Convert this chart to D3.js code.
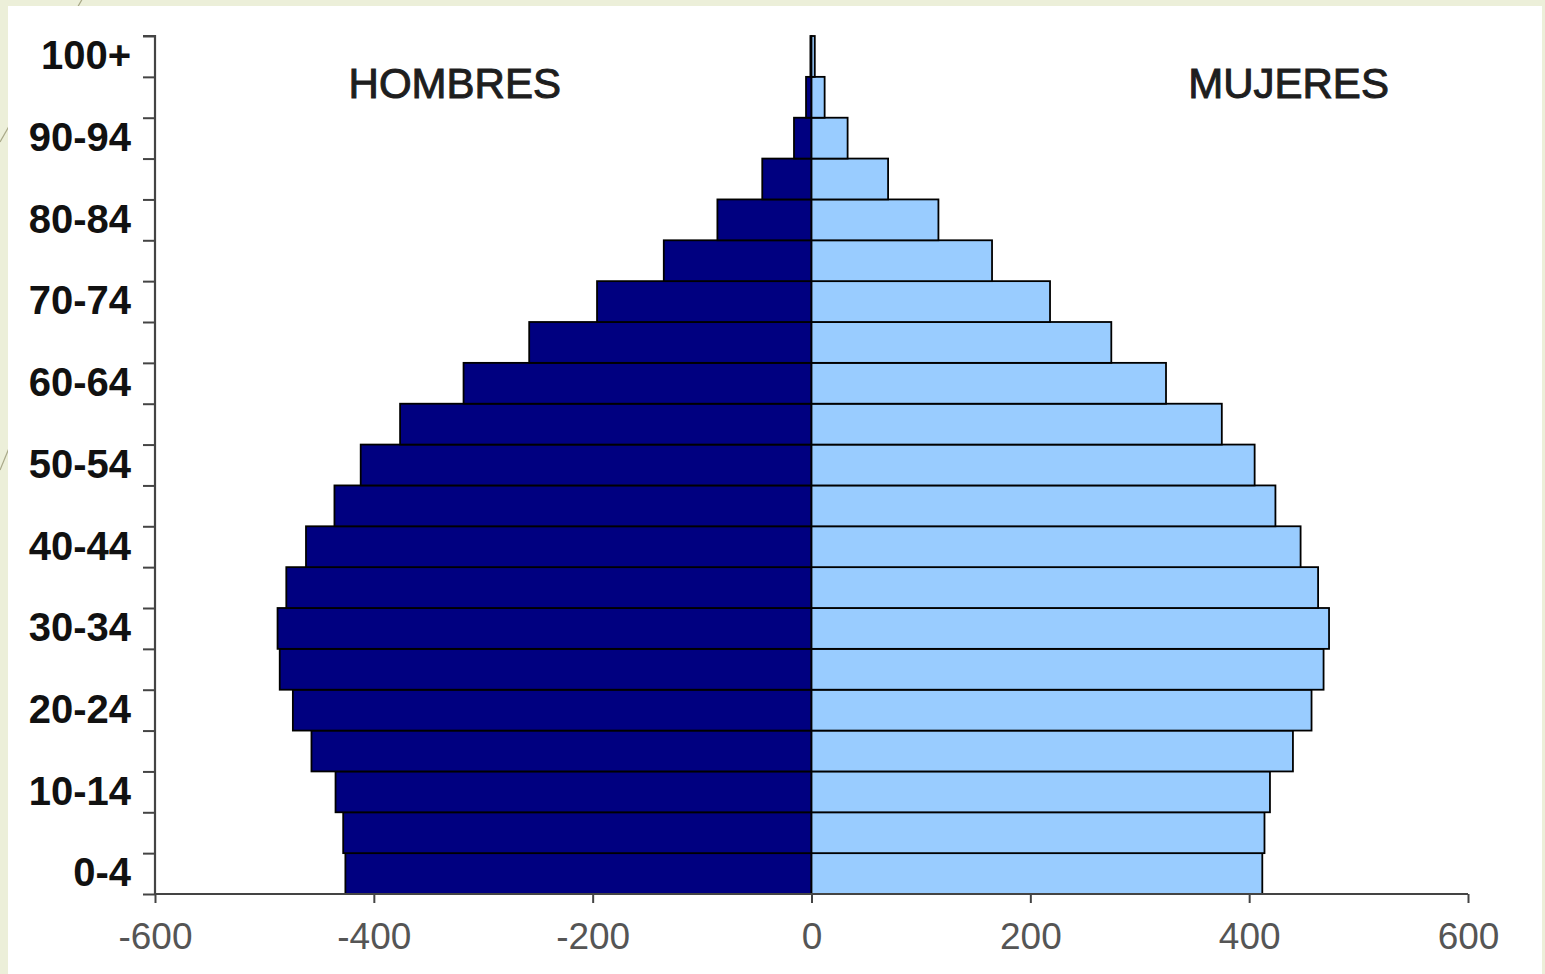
<!DOCTYPE html>
<html>
<head>
<meta charset="utf-8">
<script src="https://cdn.jsdelivr.net/npm/d3@7"></script>
<style>
html,body{margin:0;padding:0;background:#ecefd9;}
svg{display:block;}
</style>
</head>
<body>
<svg id="chart" width="1545" height="974"></svg>
<script>
const categories = ["0-4","5-9","10-14","15-19","20-24","25-29","30-34","35-39","40-44","45-49","50-54","55-59","60-64","65-69","70-74","75-79","80-84","85-89","90-94","95-99","100+"];
const hombres = [-426,-428,-435,-457,-474,-486,-488,-480,-462,-436,-412,-376,-318,-258,-196,-135,-86,-45,-16,-5,-1];
const mujeres = [412,414,419,440,457,468,473,463,447,424,405,375,324,274,218,165,116,70,33,12,3];
const xTicks = [-600,-400,-200,0,200,400,600];
const groupLabels = ["HOMBRES","MUJERES"];

const svg = d3.select("#chart");
const W = 1545, H = 974;

// slide decoration
svg.append("line").attr("x1",84).attr("y1",-4).attr("x2",0).attr("y2",142)
  .attr("stroke","#a8a888").attr("stroke-width",1.2);
svg.append("line").attr("x1",14).attr("y1",436).attr("x2",0).attr("y2",470)
  .attr("stroke","#a8a888").attr("stroke-width",1.2);
svg.append("rect").attr("x",8).attr("y",6).attr("width",1534).attr("height",H-6).attr("fill","#ffffff");

const x = d3.scaleLinear().domain([-600,600]).range([155,1468]);
const y = d3.scaleBand().domain(categories).range([894,36]).padding(0);

// bars
const g = svg.append("g");
g.selectAll("rect.h").data(categories).join("rect").attr("class","h")
  .attr("x",(c,i)=>x(hombres[i])).attr("y",c=>y(c))
  .attr("width",(c,i)=>x(0)-x(hombres[i])).attr("height",y.bandwidth())
  .attr("fill","#000080").attr("stroke","#000000").attr("stroke-width",1.8);
g.selectAll("rect.m").data(categories).join("rect").attr("class","m")
  .attr("x",x(0)).attr("y",c=>y(c))
  .attr("width",(c,i)=>x(mujeres[i])-x(0)).attr("height",y.bandwidth())
  .attr("fill","#99ccff").attr("stroke","#000000").attr("stroke-width",1.8);

// y axis: boundary ticks
const yb = d3.scaleLinear().domain([0,categories.length]).range([894,36]);
const yTickAxis = svg.append("g").attr("transform","translate(155,0)")
  .call(d3.axisLeft(yb).tickValues(d3.range(0,categories.length+1)).tickSize(12).tickFormat(""));
yTickAxis.select(".domain").attr("stroke","#444").attr("stroke-width",2.2).attr("d","M-12,36H0V894");
yTickAxis.selectAll(".tick line").attr("stroke","#444").attr("stroke-width",2);

// y axis labels
const yLab = svg.append("g").attr("transform","translate(155,0)")
  .call(d3.axisLeft(y).tickSize(0).tickPadding(24).tickFormat((c,i)=> i%2===0 ? c : ""));
yLab.select(".domain").remove();
yLab.selectAll("text").attr("font-family","'Liberation Sans', Arial, sans-serif")
  .attr("font-weight","bold").attr("font-size",40).attr("fill","#111");

// x axis
const xa = svg.append("g").attr("transform","translate(0,894)")
  .call(d3.axisBottom(x).tickValues(xTicks).tickSize(9).tickPadding(20).tickFormat(d=>String(d)));
xa.select(".domain").attr("stroke","#444").attr("stroke-width",2.2).attr("d","M155,0H1468");
xa.selectAll(".tick line").attr("stroke","#444").attr("stroke-width",2);
xa.selectAll("text").attr("font-family","'Liberation Sans', Arial, sans-serif")
  .attr("font-size",37).attr("fill","#555");

// group labels
svg.append("text").attr("x",x(-326)).attr("y",98).attr("text-anchor","middle")
  .attr("font-family","'Liberation Sans', Arial, sans-serif").attr("font-size",42)
  .attr("fill","#1e1e1e").attr("stroke","#1e1e1e").attr("stroke-width",1).text(groupLabels[0]);
svg.append("text").attr("x",x(436)).attr("y",98).attr("text-anchor","middle")
  .attr("font-family","'Liberation Sans', Arial, sans-serif").attr("font-size",42)
  .attr("fill","#1e1e1e").attr("stroke","#1e1e1e").attr("stroke-width",1).text(groupLabels[1]);
</script>
</body>
</html>
